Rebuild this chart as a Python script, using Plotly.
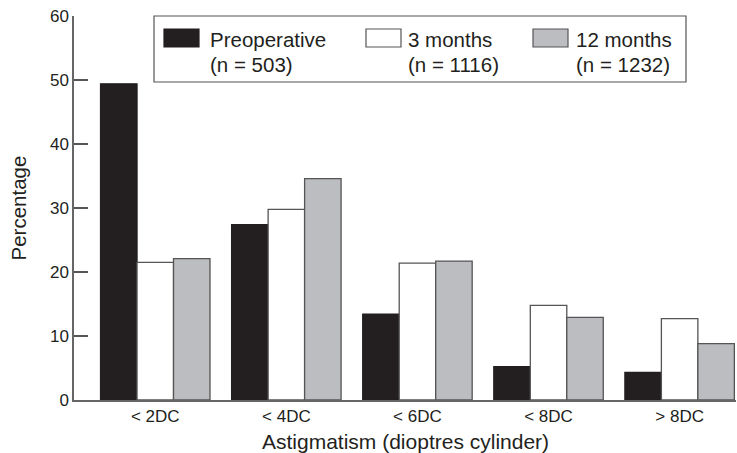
import plotly.graph_objects as go

# Astigmatism categories and percentage of eyes in each, per follow-up stage
categories = ["< 2DC", "< 4DC", "< 6DC", "< 8DC", "> 8DC"]
preoperative = [49.4, 27.4, 13.4, 5.2, 4.3]
months_3 = [21.5, 29.8, 21.4, 14.8, 12.7]
months_12 = [22.1, 34.6, 21.7, 12.9, 8.8]

series_names = ["Preoperative", "3 months", "12 months"]
series_n = [503, 1116, 1232]
series_colors = ["#231f20", "#ffffff", "#bcbdc0"]
series_values = [preoperative, months_3, months_12]

y_ticks = [0, 10, 20, 30, 40, 50, 60]

FONT = "Liberation Sans, Arial, Helvetica, sans-serif"
INK = "#231f20"
EDGE = "#555555"

W, H = 737, 453
L, R, T, B = 74, 1, 16, 53
PW, PH = W - L - R, H - T - B


def px_x(x):
    return (x - L) / PW


def px_y(y):
    return (H - B - y) / PH


fig = go.Figure()
for name, vals, col in zip(series_names, series_values, series_colors):
    fig.add_trace(go.Bar(
        x=categories, y=vals, name=name,
        marker=dict(color=col, line=dict(color=EDGE if col != INK else INK, width=1.3)),
        showlegend=False,
    ))

# Hand-built legend box with large swatches and two-line labels
shapes = [dict(type="rect", xref="paper", yref="paper",
               x0=px_x(154), x1=px_x(686), y0=px_y(82), y1=px_y(16),
               line=dict(color=EDGE, width=1.2), fillcolor="white", layer="above")]
annotations = []
sw_left = [164, 366, 533]
txt_left = [209, 407, 575]
for name, n, col, sx, tx in zip(series_names, series_n, series_colors, sw_left, txt_left):
    shapes.append(dict(type="rect", xref="paper", yref="paper",
                       x0=px_x(sx), x1=px_x(sx + 35), y0=px_y(47), y1=px_y(29),
                       line=dict(color=EDGE if col != INK else INK, width=1.2),
                       fillcolor=col, layer="above"))
    for text, cy in ((name, 39.5), (f"(n = {n})", 64)):
        annotations.append(dict(xref="paper", yref="paper", x=px_x(tx), y=px_y(cy),
                                text=text, showarrow=False, xanchor="left",
                                yanchor="middle", borderpad=0,
                                font=dict(family=FONT, size=20.5, color=INK)))

# Axis titles
annotations.append(dict(xref="paper", yref="paper", x=0.5, y=px_y(441),
                        text="Astigmatism (dioptres cylinder)", showarrow=False,
                        xanchor="center", yanchor="middle",
                        font=dict(family=FONT, size=21, color=INK)))
annotations.append(dict(xref="paper", yref="paper", x=px_x(17.5), y=0.5,
                        text="Percentage", showarrow=False, textangle=-90,
                        xanchor="center", yanchor="middle",
                        font=dict(family=FONT, size=20.5, color=INK)))

fig.update_layout(
    width=W, height=H,
    margin=dict(l=L, r=R, t=T, b=B),
    paper_bgcolor="white", plot_bgcolor="white",
    barmode="group", bargap=0.165, bargroupgap=0,
    shapes=shapes, annotations=annotations,
    font=dict(family=FONT, color=INK),
)
fig.update_xaxes(
    range=[-0.62, 4.43], showgrid=False, zeroline=False,
    showline=True, linecolor="#666666", linewidth=1.5,
    ticks="", tickfont=dict(family=FONT, size=17, color=INK),
)
fig.update_yaxes(
    range=[0, 60], tickvals=y_ticks, showgrid=False, zeroline=False,
    showline=True, linecolor="#666666", linewidth=1.5,
    ticks="inside", ticklen=14, tickwidth=1.5, tickcolor="#555555",
    tickfont=dict(family=FONT, size=17, color=INK),
)

fig.write_html("out.html")
